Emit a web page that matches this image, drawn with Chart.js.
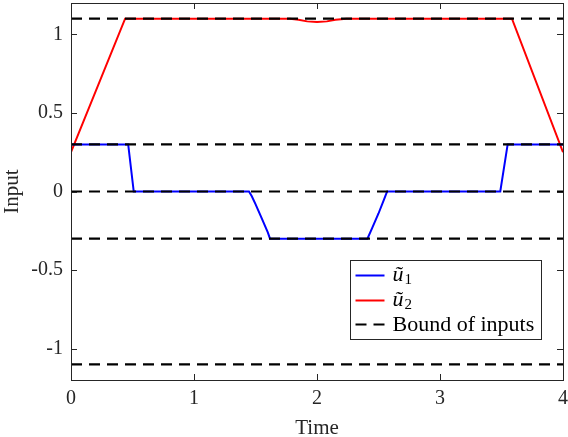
<!DOCTYPE html>
<html>
<head>
<meta charset="utf-8">
<script src="https://cdn.jsdelivr.net/npm/chart.js@4/dist/chart.umd.min.js"></script>
<style>
  html, body { margin: 0; padding: 0; background: #ffffff; }
  canvas { display: block; }
</style>
</head>
<body>
<canvas id="c" width="568" height="437"></canvas>
<script>
// Input signals over time
const timeU1 = [0, 0.465, 0.51, 1.447, 1.47, 1.5, 1.55, 1.6, 1.618, 2.41, 2.45, 2.5, 2.55, 2.57, 3.49, 3.55, 4];
const u1     = [0.3, 0.3, 0, 0, -0.03, -0.08, -0.17, -0.26, -0.3, -0.3, -0.23, -0.14, -0.04, 0, 0, 0.3, 0.3];

const timeU2 = [0, 0.44, 1.78, 1.85, 1.92, 2.0, 2.08, 2.15, 2.24, 3.585, 4];
const u2     = [0.25, 1.1, 1.1, 1.094, 1.083, 1.079, 1.083, 1.094, 1.1, 1.1, 0.25];

// Input bounds drawn as horizontal dashed lines over the full time span
const boundLevels = [1.1, 0.3, 0, -0.3, -1.1];
const timeSpan = [0, 4];

const seriesNames = ['ũ1', 'ũ2', 'Bound of inputs'];
const xTicks = [0, 1, 2, 3, 4];
const yTicks = [-1, -0.5, 0, 0.5, 1];

const FONT = '"Liberation Serif", "DejaVu Serif", serif';
const AXIS_COLOR = '#262626';

const toPoints = (xs, ys) => xs.map((x, i) => ({ x: x, y: ys[i] }));

const boundPoints = [];
boundLevels.forEach((lv, i) => {
  if (i > 0) boundPoints.push({ x: timeSpan[1], y: null });
  boundPoints.push({ x: timeSpan[0], y: lv }, { x: timeSpan[1], y: lv });
});

// Box frame with inward ticks on all four sides
const framePlugin = {
  id: 'frame',
  afterDatasetsDraw(chart) {
    const { ctx, chartArea: a, scales } = chart;
    const len = 6;
    ctx.save();
    ctx.strokeStyle = AXIS_COLOR;
    ctx.lineWidth = 1;
    ctx.beginPath();
    xTicks.forEach(v => {
      const px = Math.round(scales.x.getPixelForValue(v)) + 0.5;
      ctx.moveTo(px, a.bottom); ctx.lineTo(px, a.bottom - len);
      ctx.moveTo(px, a.top); ctx.lineTo(px, a.top + len);
    });
    yTicks.forEach(v => {
      const py = Math.round(scales.y.getPixelForValue(v)) + 0.5;
      ctx.moveTo(a.left, py); ctx.lineTo(a.left + len, py);
      ctx.moveTo(a.right, py); ctx.lineTo(a.right - len, py);
    });
    ctx.stroke();
    ctx.strokeRect(Math.round(a.left) + 0.5, Math.round(a.top) + 0.5,
                   Math.round(a.right - a.left), Math.round(a.bottom - a.top));
    ctx.restore();
  }
};

// Legend box placed inside the plot area, lower right
const boxLegendPlugin = {
  id: 'boxLegend',
  afterDraw(chart) {
    const { ctx, chartArea: a } = chart;
    const w = 191, h = 79;
    const x0 = Math.round(a.right - 22 - w) + 0.5;
    const y0 = Math.round(a.bottom - 41 - h) + 0.5;
    ctx.save();
    ctx.fillStyle = '#ffffff';
    ctx.fillRect(x0, y0, w, h);
    ctx.strokeStyle = '#262626';
    ctx.lineWidth = 1;
    ctx.strokeRect(x0, y0, w, h);
    const rows = [15, 40, 64];
    chart.data.datasets.forEach((ds, i) => {
      const cy = y0 + rows[i];
      ctx.strokeStyle = ds.borderColor;
      ctx.lineWidth = ds.borderWidth;
      ctx.setLineDash(ds.borderDash || []);
      ctx.beginPath();
      ctx.moveTo(x0 + 5, cy);
      ctx.lineTo(x0 + 34, cy);
      ctx.stroke();
      ctx.setLineDash([]);
      ctx.fillStyle = '#000000';
      ctx.textBaseline = 'middle';
      ctx.textAlign = 'left';
      const label = ds.label;
      const tx = x0 + 42;
      const m = label.match(/^(ũ)(\d)$/);
      if (m) {
        ctx.font = 'italic 22px ' + FONT;
        ctx.fillText(m[1], tx, cy);
        const wu = ctx.measureText(m[1]).width;
        ctx.font = '15px ' + FONT;
        ctx.fillText(m[2], tx + wu + 1, cy + 5);
      } else {
        ctx.font = '22px ' + FONT;
        ctx.fillText(label, tx, cy + 1);
      }
    });
    ctx.restore();
  }
};

new Chart(document.getElementById('c'), {
  type: 'line',
  data: {
    datasets: [
      {
        label: seriesNames[0],
        data: toPoints(timeU1, u1),
        borderColor: '#0000ff',
        borderWidth: 2,
        pointRadius: 0,
        tension: 0,
        order: 1
      },
      {
        label: seriesNames[1],
        data: toPoints(timeU2, u2),
        borderColor: '#ff0000',
        borderWidth: 2,
        pointRadius: 0,
        tension: 0,
        order: 2
      },
      {
        label: seriesNames[2],
        data: boundPoints,
        borderColor: '#000000',
        borderWidth: 2.2,
        borderDash: [11, 7],
        pointRadius: 0,
        tension: 0,
        spanGaps: false,
        order: 0
      }
    ]
  },
  options: {
    responsive: false,
    animation: false,
    layout: { padding: { left: 0, right: 5, top: 3, bottom: 0 } },
    plugins: {
      legend: { display: false },
      tooltip: { enabled: false }
    },
    scales: {
      x: {
        type: 'linear',
        min: 0,
        max: 4,
        grid: { display: false, drawTicks: false },
        border: { display: false },
        afterBuildTicks: s => { s.ticks = xTicks.map(v => ({ value: v })); },
        afterFit: s => { s.height = 57; s.paddingLeft = 0; s.paddingRight = 0; },
        ticks: {
          padding: 7,
          color: AXIS_COLOR,
          font: { family: FONT, size: 20 },
          maxRotation: 0,
          callback: v => String(v)
        },
        title: {
          display: true,
          text: 'Time',
          color: AXIS_COLOR,
          font: { family: FONT, size: 21, lineHeight: 0.8 },
          padding: { top: 0, bottom: 0 }
        }
      },
      y: {
        type: 'linear',
        min: -1.2,
        max: 1.2,
        grid: { display: false, drawTicks: false },
        border: { display: false },
        afterBuildTicks: s => { s.ticks = yTicks.map(v => ({ value: v })); },
        afterFit: s => { s.width = 71; s.paddingTop = 0; s.paddingBottom = 0; },
        ticks: {
          padding: 8,
          color: AXIS_COLOR,
          font: { family: FONT, size: 20 },
          callback: v => String(v)
        },
        title: {
          display: true,
          text: 'Input',
          color: AXIS_COLOR,
          font: { family: FONT, size: 21 },
          padding: { top: 0, bottom: 0 }
        }
      }
    }
  },
  plugins: [framePlugin, boxLegendPlugin]
});
</script>
</body>
</html>
